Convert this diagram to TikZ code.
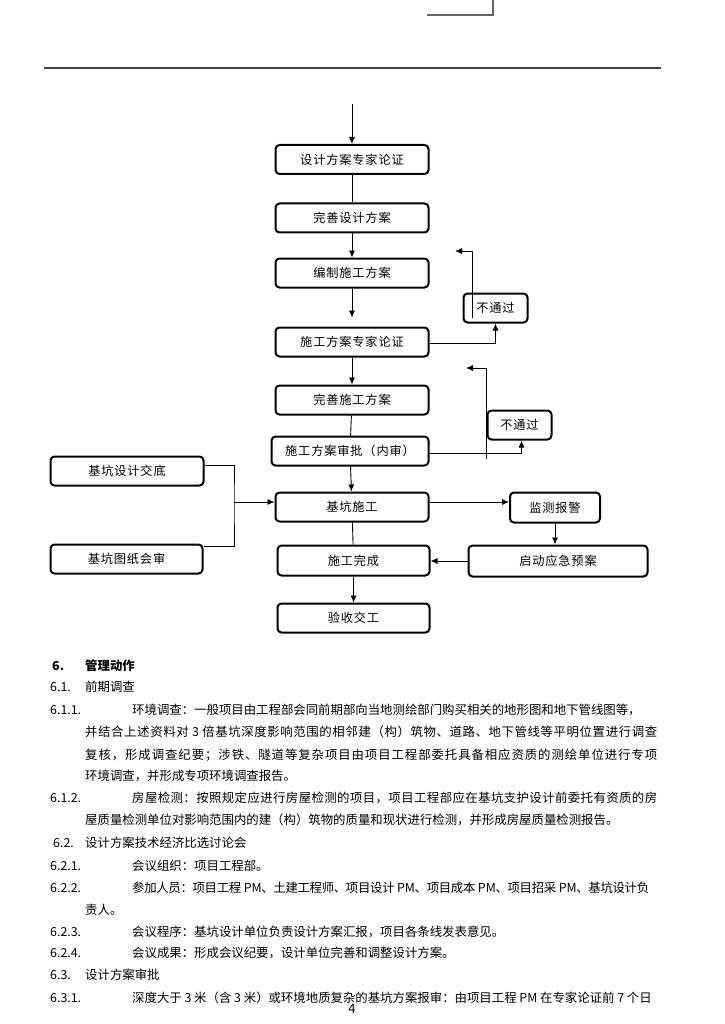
\documentclass[tikz,border=0pt]{standalone}
\usepackage{fontspec}
\setmainfont{Noto Sans CJK SC}
\newfontfamily\boxfont{Noto Sans CJK SC}[LetterSpace=7]
\usetikzlibrary{arrows.meta}
% justified line: even glue between the characters
\ExplSyntaxOn
\NewDocumentCommand{\jline}{mm}{\hbox~to~#1{\tl_map_inline:nn{#2}{##1\hss}\unskip}}
\ExplSyntaxOff

\begin{document}
\begin{tikzpicture}[x=1pt, y=-1pt, >={Latex[length=7pt,width=6pt]},
    flowbox/.style={draw, line width=2pt, rounded corners=4pt, minimum height=29pt,
        inner sep=0pt, font=\boxfont\fontsize{12.2}{14}\selectfont},
    link/.style={line width=0.9pt},
    bodyline/.style={anchor=west, inner sep=0pt, font=\fontsize{12.4}{14}\selectfont}]
    \fill[white] (0,0) rectangle (724,1024);
    \useasboundingbox (0,0) rectangle (724,1024);

    % end of the previous page's chart and the header rule
    \draw[black!60, line width=1.5pt] (427,15) -- (493,15) -- (493,0);
    \draw[black!75, line width=1.6pt] (44,68) -- (661,68);

    % main column
    \coordinate (topin) at (352,104);
    \node[flowbox, minimum width=153pt] (b1) at (352,159.5) {设计方案专家论证};
    \node[flowbox, minimum width=153pt] (b2) at (352,218) {完善设计方案};
    \node[flowbox, minimum width=153pt] (b3) at (352,273) {编制施工方案};
    \node[flowbox, minimum width=153pt] (b4) at (352,342) {施工方案专家论证};
    \node[flowbox, minimum width=153pt] (b5) at (352,400) {完善施工方案};
    \node[flowbox, minimum width=157pt] (b6) at (350,451) {施工方案审批（内审）};
    \node[flowbox, minimum width=153pt] (b7) at (352,507) {基坑施工};
    \node[flowbox, minimum width=152pt, minimum height=30pt] (b8) at (353.5,560.5) {施工完成};
    \node[flowbox, minimum width=152pt] (b9) at (353.5,618) {验收交工};

    % side boxes
    \node[flowbox, minimum width=64pt] (fail1) at (495.5,308) {不通过};
    \node[flowbox, minimum width=64pt] (fail2) at (519.5,425) {不通过};
    \node[flowbox, minimum width=153pt] (la) at (127,471) {基坑设计交底};
    \node[flowbox, minimum width=152pt] (lb) at (126.5,559) {基坑图纸会审};
    \node[flowbox, minimum width=90pt, minimum height=30pt] (mon) at (555,507.5) {监测报警};
    \node[flowbox, minimum width=179pt, minimum height=31pt] (emg) at (558,561) {启动应急预案};

    \draw[link, ->] (topin) -- (b1);
    \draw[link] (b1) -- (b2);
    \draw[link, ->] (b2) -- (b3);
    \draw[link, ->, shorten >=9pt] (b3) -- (b4);
    \draw[link, ->] (b4) -- (b5);
    \draw[link] (b5) -- (b6);
    \draw[link, ->] (b6) -- (b7);
    \draw[link] (b7) -- (b8);
    \draw[link, ->] (b8) -- (b9);

    % rejected loops
    \coordinate (back1) at (455,251);
    \coordinate (back2s) at (486,459);
    \coordinate (back2) at (466,368);
    \draw[link, ->] ([yshift=-1pt]b4.east) -| (fail1.south);
    \draw[link, ->] ([xshift=10pt,yshift=6pt]fail1.south west) |- (back1);
    \draw[link, ->] ([yshift=-2pt]b6.east) -| ([xshift=2pt]fail2.south);
    \draw[link, ->] (back2s) |- (back2);

    % inputs on the left
    \coordinate (join) at (234,502);
    \draw[link] ([yshift=6pt]la.east) -| (join) |- ([yshift=13pt]lb.east);
    \draw[link, ->] (join) -- (b7.west |- join);

    % monitoring
    \draw[link, ->] ([yshift=5pt]b7.east) -- ([yshift=5pt]b7.east -| mon.west);
    \draw[link, ->] (mon) -- (mon |- emg.north);
    \draw[link, ->] (emg.west) -- (emg.west -| b8.east);

    % text below the chart
    \node[bodyline, font=\bfseries\fontsize{12.4}{14}\selectfont] (n6) at (52,666) {6.};
    \node[bodyline, font=\bfseries\fontsize{12.4}{14}\selectfont] (t6) at (85,666) {管理动作};
    \node[bodyline] (n61) at (50,687) {6.1.};
    \node[bodyline] (t61) at (85,687) {前期调查};
    \node[bodyline] (n611) at (50,710) {6.1.1.};
    \node[bodyline] (t611a) at (132,710) {环境调查：一般项目由工程部会同前期部向当地测绘部门购买相关的地形图和地下管线图等，};
    \node[bodyline] (t611b) at (85,732) {\jline{572pt}{并结合上述资料对{\ 3\ }倍基坑深度影响范围的相邻建（构）筑物、道路、地下管线等平明位置进行调查}};
    \node[bodyline] (t611c) at (85,755) {\jline{572pt}{复核，形成调查纪要；涉铁、隧道等复杂项目由项目工程部委托具备相应资质的测绘单位进行专项}};
    \node[bodyline] (t611d) at (85,776) {环境调查，并形成专项环境调查报告。};
    \node[bodyline] (n612) at (50,798) {6.1.2.};
    \node[bodyline] (t612a) at (132,798) {\jline{525pt}{房屋检测：按照规定应进行房屋检测的项目，项目工程部应在基坑支护设计前委托有资质的房}};
    \node[bodyline] (t612b) at (85,820) {屋质量检测单位对影响范围内的建（构）筑物的质量和现状进行检测，并形成房屋质量检测报告。};
    \node[bodyline] (n62) at (53,843) {6.2.};
    \node[bodyline] (t62) at (85,843) {设计方案技术经济比选讨论会};
    \node[bodyline] (n621) at (50,866) {6.2.1.};
    \node[bodyline] (t621) at (132,866) {会议组织：项目工程部。};
    \node[bodyline] (n622) at (50,888) {6.2.2.};
    \node[bodyline] (t622a) at (132,888) {\jline{517pt}{参加人员：项目工程{\ PM}、土建工程师、项目设计{\ PM}、项目成本{\ PM}、项目招采{\ PM}、基坑设计负}};
    \node[bodyline] (t622b) at (85,910) {责人。};
    \node[bodyline] (n623) at (50,932) {6.2.3.};
    \node[bodyline] (t623) at (132,932) {会议程序：基坑设计单位负责设计方案汇报，项目各条线发表意见。};
    \node[bodyline] (n624) at (50,953) {6.2.4.};
    \node[bodyline] (t624) at (132,953) {会议成果：形成会议纪要，设计单位完善和调整设计方案。};
    \node[bodyline] (n63) at (50,975) {6.3.};
    \node[bodyline] (t63) at (85,975) {设计方案审批};
    \node[bodyline] (n631) at (50,998) {6.3.1.};
    \node[bodyline] (t631) at (132,998) {深度大于 3 米（含 3 米）或环境地质复杂的基坑方案报审：由项目工程 PM 在专家论证前 7 个日};
    \node[inner sep=0pt, font=\fontsize{13}{14}\selectfont] (pageno) at (352,1009) {4};
\end{tikzpicture}
\end{document}
